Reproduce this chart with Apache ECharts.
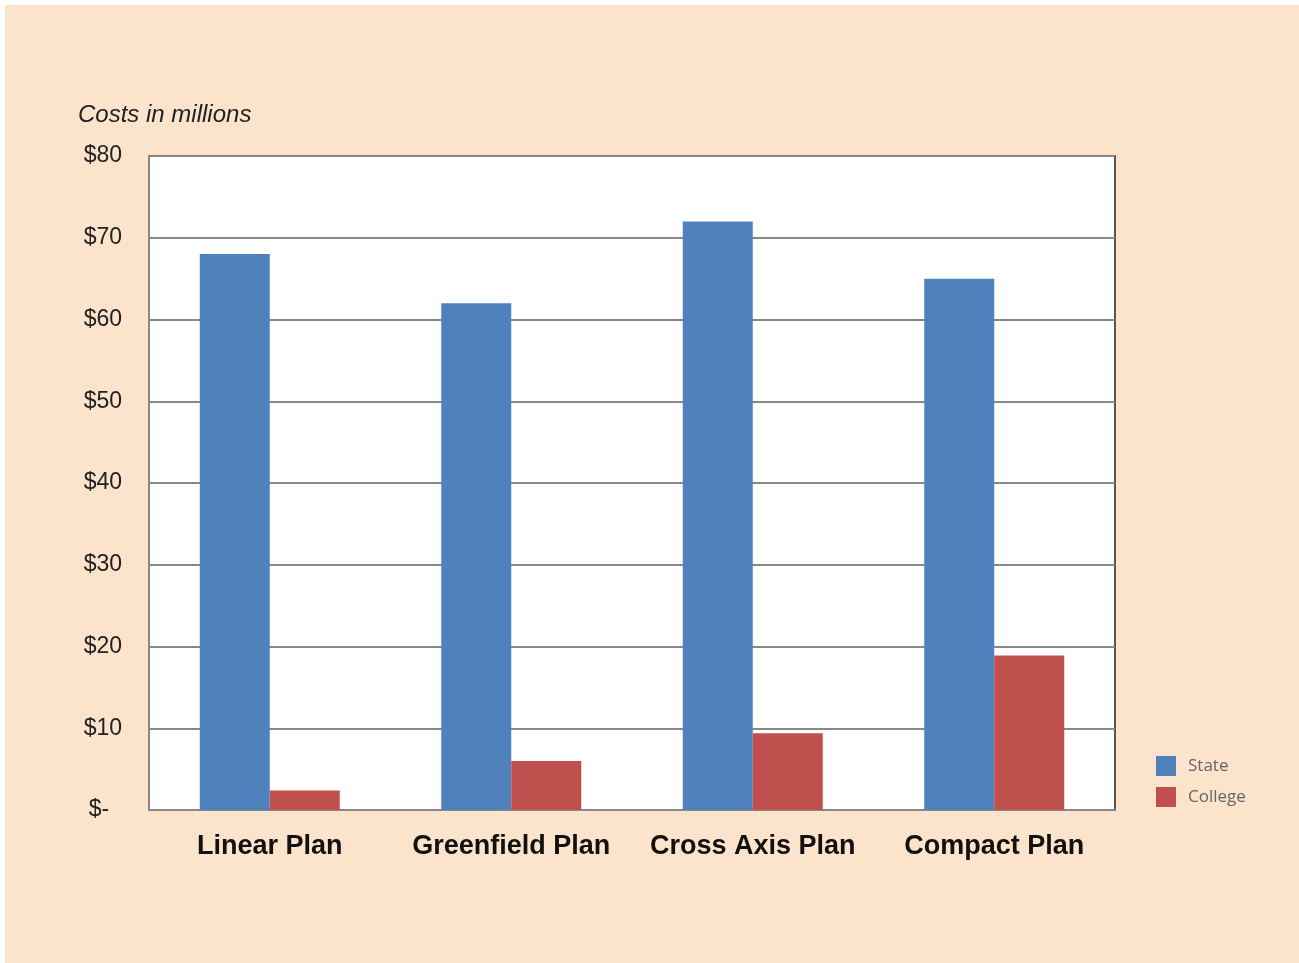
<!DOCTYPE html>
<html>
<head>
<meta charset="utf-8">
<script src="https://cdn.jsdelivr.net/npm/echarts@6/dist/echarts.min.js"></script>
<style>
html,body{margin:0;padding:0;background:#ffffff;}
#wrap{position:absolute;left:5px;top:5px;width:1294px;height:958px;background:#FCE4CC;}
#chart{width:1294px;height:958px;}
</style>
</head>
<body>
<div id="wrap"><div id="chart"></div></div>
<script>
const categories = ['Linear Plan', 'Greenfield Plan', 'Cross Axis Plan', 'Compact Plan'];
const stateValues = [68, 62, 72, 65];
const collegeValues = [2.4, 6, 9.4, 18.9];
const yTicks = [0, 10, 20, 30, 40, 50, 60, 70, 80];

const chart = echarts.init(document.getElementById('chart'), null, {renderer: 'canvas'});
const ox = 5, oy = 5;
chart.setOption({
  backgroundColor: '#FCE4CC',
  animation: false,
  title: {
    text: 'Costs in millions',
    left: 73 - ox, top: 98 - oy,
    textStyle: {fontFamily: 'Liberation Sans', fontStyle: 'italic', fontWeight: 'normal', fontSize: 24, color: '#222'}
  },
  legend: {
    orient: 'vertical',
    left: 1151 - ox, top: 751 - oy,
    itemWidth: 20, itemHeight: 20, itemGap: 11,
    icon: 'rect',
    textStyle: {fontFamily: 'Open Sans', fontSize: 17, color: '#666', padding: [0, 0, 0, 7]},
    data: ['State', 'College']
  },
  grid: {left: 149 - ox, top: 156 - oy, width: 966, height: 654, show: true, backgroundColor: '#ffffff', borderColor: '#555', borderWidth: 2, containLabel: false},
  xAxis: {
    type: 'category',
    data: categories,
    axisLine: {show: true, lineStyle: {color: '#888', width: 2}},
    axisTick: {show: false},
    axisLabel: {interval: 0, fontFamily: 'Liberation Sans', fontWeight: 'bold', fontSize: 27, color: '#111', margin: 23}
  },
  yAxis: {
    type: 'value',
    min: 0, max: 80, interval: 10,
    axisLine: {show: true, lineStyle: {color: '#888', width: 2}},
    axisTick: {show: false},
    splitLine: {show: true, lineStyle: {color: '#888', width: 2}},
    axisLabel: {
      fontFamily: 'Liberation Sans', fontSize: 23, color: '#222', margin: 27,
      padding: [3, 0, 0, 0],
      formatter: function (v) { return v === 0 ? '$-  ' : '$' + v; }
    }
  },
  series: [
    {name: 'State', type: 'bar', data: stateValues, barWidth: 70, barGap: '0%', itemStyle: {color: '#4F81BD'}},
    {name: 'College', type: 'bar', data: collegeValues, barWidth: 70, barGap: '0%', itemStyle: {color: '#C0504D'}}
  ]
});
</script>
</body>
</html>
